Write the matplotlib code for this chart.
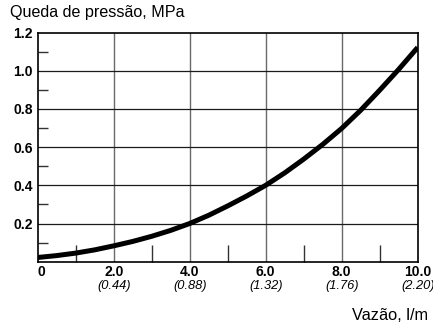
import matplotlib
matplotlib.use("Agg")
import matplotlib.pyplot as plt
import matplotlib.transforms as mtransforms

plt.rcParams['font.family'] = ['Liberation Sans', 'DejaVu Sans']

# Flow rate (l/min) and pressure drop (MPa)
flow = [0, 0.5, 1, 1.5, 2, 2.5, 3, 3.5, 4, 4.5, 5, 5.5,
        6, 6.5, 7, 7.5, 8, 8.5, 9, 9.5, 10]
pressure = [0.022, 0.032, 0.045, 0.062, 0.083, 0.106, 0.133, 0.164, 0.200, 0.243, 0.292, 0.344,
            0.400, 0.465, 0.537, 0.614, 0.698, 0.793, 0.898, 1.007, 1.122]

x_ticks = [0, 2, 4, 6, 8, 10]
x_labels = ['0', '2.0', '4.0', '6.0', '8.0', '10.0']
x_sub_labels = ['', '(0.44)', '(0.88)', '(1.32)', '(1.76)', '(2.20)']
y_ticks = [0.2, 0.4, 0.6, 0.8, 1.0, 1.2]
y_labels = ['0.2', '0.4', '0.6', '0.8', '1.0', '1.2']

fig = plt.figure(figsize=(4.33, 3.23), dpi=100)
W, H = 433, 323
left, right, top, bottom = 37.7, 417.7, 32.5, 261.7
ax = fig.add_axes([left / W, 1 - bottom / H, (right - left) / W, (bottom - top) / H])

ax.set_xlim(0, 10)
ax.set_ylim(0, 1.2)

# grid lines
for gx in [2, 4, 6, 8]:
    ax.axvline(gx, color='#6a6a6a', lw=1.0, zorder=1)
for gy in [0.2, 0.4, 0.6, 0.8, 1.0]:
    ax.axhline(gy, color='#1a1a1a', lw=0.9, zorder=1)

ax.plot(flow, pressure, color='black', lw=3.6, solid_capstyle='butt',
        solid_joinstyle='round', zorder=3)

for s in ax.spines.values():
    s.set_linewidth(1.2)
    s.set_color('black')

# major ticks carry labels only; minor ticks point inward
ax.set_xticks(x_ticks)
ax.set_xticklabels([])
ax.set_yticks(y_ticks)
ax.set_yticklabels(y_labels, fontsize=10, fontweight='bold')
ax.tick_params(axis='both', which='major', length=0)
ax.tick_params(axis='y', which='major', pad=3.5)
ax.set_xticks([1, 3, 5, 7, 9], minor=True)
ax.set_yticks([0.1, 0.3, 0.5, 0.7, 0.9, 1.1], minor=True)
ax.tick_params(axis='x', which='minor', direction='in', length=12, width=1.0, color='#333333')
ax.tick_params(axis='y', which='minor', direction='in', length=7, width=1.0, color='#333333')

trans = mtransforms.blended_transform_factory(ax.transData, fig.transFigure)
for xv, lab, sub in zip(x_ticks, x_labels, x_sub_labels):
    xx = xv + 0.1 if xv == 0 else xv
    ax.text(xx, 1 - 272.5 / H, lab, transform=trans, ha='center', va='center',
            fontsize=10, fontweight='bold')
    if sub:
        ax.text(xv, 1 - 286 / H, sub, transform=trans, ha='center', va='center',
                fontsize=9.3, fontstyle='italic')

fig.text(10 / W, 1 - 13 / H, 'Queda de pressão, MPa', ha='left', va='center', fontsize=11.6)
fig.text(428 / W, 1 - 315 / H, 'Vazão, l/m', ha='right', va='center', fontsize=11.8)

fig.savefig('out.png', dpi=100)
